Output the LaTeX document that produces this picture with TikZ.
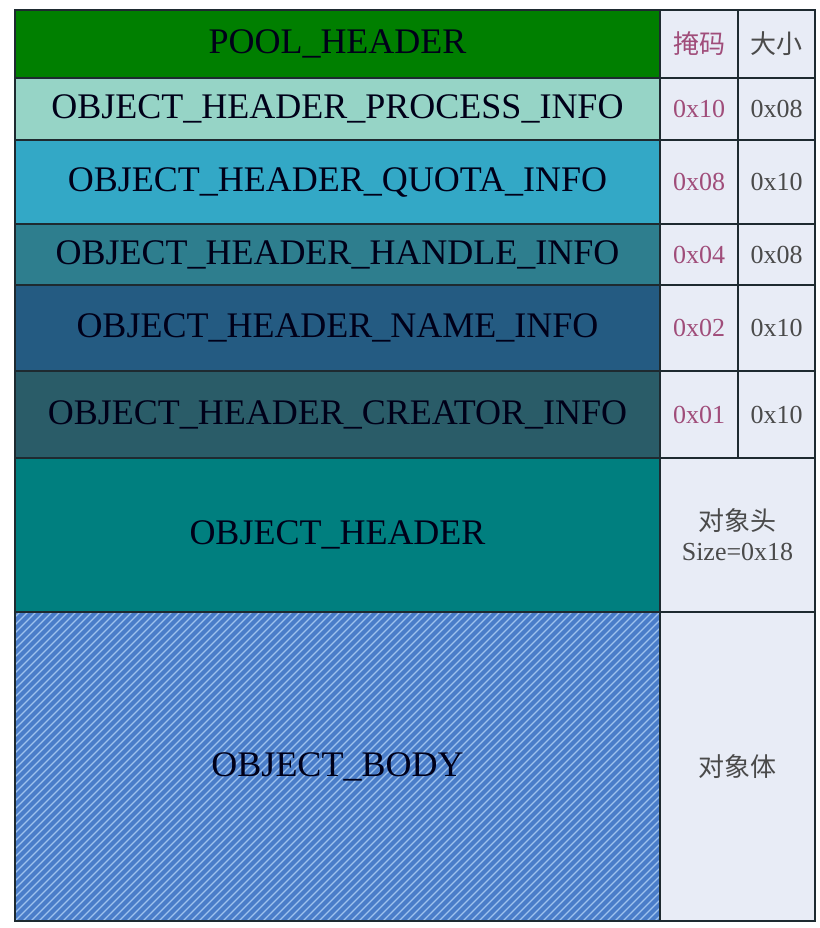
\documentclass[tikz,border=0pt]{standalone}
\usepackage{fontspec}
\setmainfont{Liberation Serif}
\newfontfamily\cjk{Noto Sans CJK SC}
\definecolor{poolc}{HTML}{007F00}
\definecolor{procc}{HTML}{96D4C6}
\definecolor{quotac}{HTML}{33A8C6}
\definecolor{handc}{HTML}{2E7E8E}
\definecolor{namec}{HTML}{245B82}
\definecolor{creac}{HTML}{2A5C68}
\definecolor{ohc}{HTML}{007F7F}
\definecolor{bodyc}{HTML}{4A7DC9}
\definecolor{stripec}{HTML}{9EC2EE}
\definecolor{cellc}{HTML}{E8ECF6}
\definecolor{maskc}{HTML}{A04D7A}
\definecolor{sizec}{HTML}{4A4A4A}
\definecolor{linec}{HTML}{1E2A30}
\begin{document}
\begin{tikzpicture}[x=1pt,y=-1pt,
  rowbox/.style={draw=linec,line width=1.6pt,minimum width=645pt,inner sep=0pt,
    font=\fontsize{36}{40}\selectfont,text=black!90!blue},
  maskbox/.style={draw=linec,line width=1.2pt,fill=cellc,minimum width=78pt,inner sep=0pt,
    font=\fontsize{26}{30}\selectfont,text=maskc},
  sizebox/.style={draw=linec,line width=1.2pt,fill=cellc,minimum width=77pt,inner sep=0pt,
    font=\fontsize{26}{30}\selectfont,text=sizec},
  widebox/.style={draw=linec,line width=1.2pt,fill=cellc,minimum width=155pt,inner sep=0pt,
    font=\fontsize{26}{30}\selectfont,text=sizec,align=center}]
\useasboundingbox (0,0) rectangle (819,928);
\fill[white] (0,0) rectangle (819,928);
% left column
\node[rowbox,fill=poolc,minimum height=68pt] (pool) at (337.5,44) {POOL\_HEADER};
\node[rowbox,fill=procc,minimum height=62pt] (proc) at (337.5,109) {OBJECT\_HEADER\_PROCESS\_INFO};
\node[rowbox,fill=quotac,minimum height=84pt] (quota) at (337.5,182) {OBJECT\_HEADER\_QUOTA\_INFO};
\node[rowbox,fill=handc,minimum height=61pt] (hand) at (337.5,254.5) {OBJECT\_HEADER\_HANDLE\_INFO};
\node[rowbox,fill=namec,minimum height=86pt] (name) at (337.5,328) {OBJECT\_HEADER\_NAME\_INFO};
\node[rowbox,fill=creac,minimum height=87pt] (crea) at (337.5,414.5) {OBJECT\_HEADER\_CREATOR\_INFO};
\node[rowbox,fill=ohc,minimum height=154pt] (oh) at (337.5,535) {OBJECT\_HEADER};
\node[rowbox,fill=bodyc,minimum height=309pt] (body) at (337.5,766.5) {};
\begin{scope}
  \clip (15,612) rectangle (660,921);
  \foreach \i in {-40,...,84} {
    \draw[stripec,line width=1.3pt] (15+\i*8,921) -- ++(309,-309);
  }
\end{scope}
\draw[linec,line width=1.6pt] (15,612) rectangle (660,921);
\node[font=\fontsize{36}{40}\selectfont,text=black!90!blue] (bodytext) at (body.center) {OBJECT\_BODY};
% right columns
\node[maskbox,minimum height=68pt] (m1) at (699,44) {\cjk 掩码};
\node[sizebox,minimum height=68pt] (s1) at (776.5,44) {\cjk 大小};
\node[maskbox,minimum height=62pt] (m2) at (699,109) {0x10};
\node[sizebox,minimum height=62pt] (s2) at (776.5,109) {0x08};
\node[maskbox,minimum height=84pt] (m3) at (699,182) {0x08};
\node[sizebox,minimum height=84pt] (s3) at (776.5,182) {0x10};
\node[maskbox,minimum height=61pt] (m4) at (699,254.5) {0x04};
\node[sizebox,minimum height=61pt] (s4) at (776.5,254.5) {0x08};
\node[maskbox,minimum height=86pt] (m5) at (699,328) {0x02};
\node[sizebox,minimum height=86pt] (s5) at (776.5,328) {0x10};
\node[maskbox,minimum height=87pt] (m6) at (699,414.5) {0x01};
\node[sizebox,minimum height=87pt] (s6) at (776.5,414.5) {0x10};
\node[widebox,minimum height=154pt] (w7) at (737.5,535) {{\cjk 对象头}\\Size=0x18};
\node[widebox,minimum height=309pt] (w8) at (737.5,766.5) {\cjk 对象体};
\end{tikzpicture}
\end{document}
